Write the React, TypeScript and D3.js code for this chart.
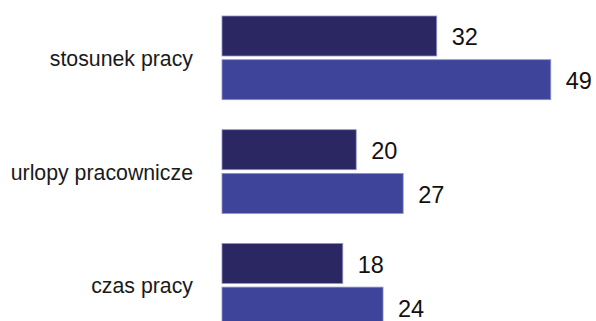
import React from "react";
import * as d3 from "d3";

const categories = ["stosunek pracy", "urlopy pracownicze", "czas pracy"];
const seriesNames = ["A", "B"];
const seriesA = [32, 20, 18];
const seriesB = [49, 27, 24];
const colors = ["#2b2762", "#3e4499"];

const W = 596;
const H = 321;

export default function App() {
  const x = d3.scaleLinear().domain([0, 50]).range([222, 557.5]);
  const y = d3
    .scaleBand<string>()
    .domain(categories)
    .range([16, 327.1])
    .paddingInner(0.264)
    .paddingOuter(0);
  const ys = d3
    .scaleBand<string>()
    .domain(seriesNames)
    .range([0, y.bandwidth()])
    .paddingInner(0.085);
  const series = [seriesA, seriesB];

  return (
    <svg
      width={W}
      height={H}
      style={{ position: "absolute", left: 0, top: 0, background: "#fff" }}
    >
      {categories.map((c, i) => (
        <g key={c} transform={`translate(0,${y(c)})`}>
          <text
            x={193}
            y={y.bandwidth() / 2 + 8}
            textAnchor="end"
            fontFamily="'Liberation Sans', Arial, sans-serif"
            fontSize={21.3}
            fill="#1a1a1a"
          >
            {c}
          </text>
          {series.map((s, j) => (
            <g key={j}>
              <rect
                x={x(0)}
                y={ys(seriesNames[j])}
                width={x(s[i]) - x(0)}
                height={ys.bandwidth()}
                fill={colors[j]}
                stroke="#8e92d0"
                strokeWidth={0.8}
              />
              <text
                x={x(s[i]) + 15}
                y={(ys(seriesNames[j]) || 0) + ys.bandwidth() / 2 + 9.5}
                fontFamily="'Liberation Sans', Arial, sans-serif"
                fontSize={23.5}
                fill="#111"
              >
                {s[i]}
              </text>
            </g>
          ))}
        </g>
      ))}
    </svg>
  );
}
